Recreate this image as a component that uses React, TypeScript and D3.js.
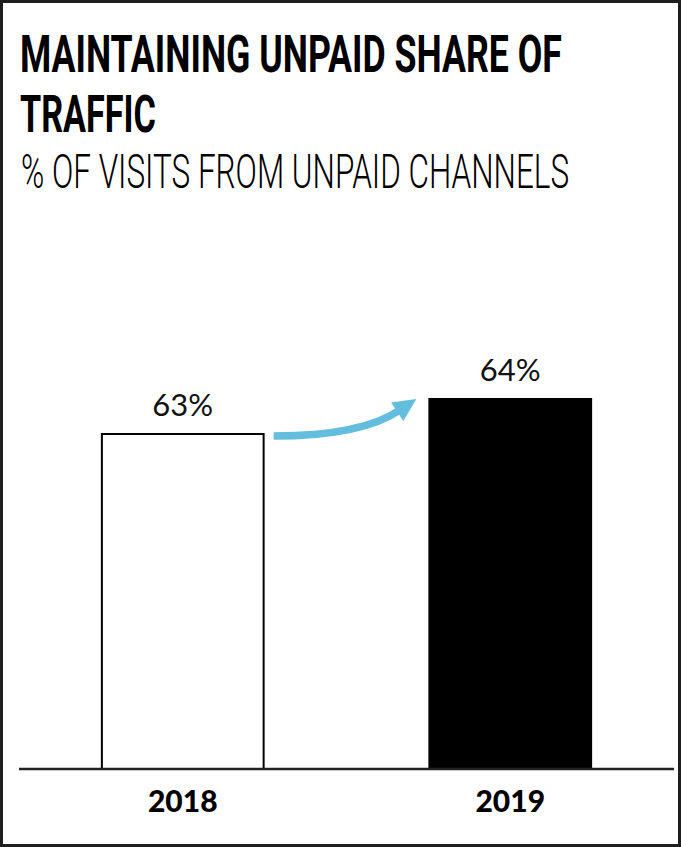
import React, { useLayoutEffect, useRef, useState } from "react";
import * as d3 from "d3";

const W = 681;
const H = 847;

const years = ["2018", "2019"];
const values = [63, 64];
const valueLabels = ["63%", "64%"];
const fills = ["#ffffff", "#000000"];

const titleLines = ["MAINTAINING UNPAID SHARE OF", "TRAFFIC"];
const subtitle = "% OF VISITS FROM UNPAID CHANNELS";

function FitText(props: {
  x: number;
  y: number;
  width: number;
  size: number;
  weight: number;
  children: string;
}) {
  const ref = useRef<SVGTextElement>(null);
  const [sx, setSx] = useState(0.62);
  useLayoutEffect(() => {
    if (ref.current) {
      const w = ref.current.getComputedTextLength();
      if (w > 0) setSx(props.width / w);
    }
  }, [props.width, props.children]);
  return (
    <text
      ref={ref}
      transform={`translate(${props.x},${props.y}) scale(${sx},1)`}
      fontSize={props.size}
      fontWeight={props.weight}
    >
      {props.children}
    </text>
  );
}

export default function App() {
  const x = d3
    .scaleBand<string>()
    .domain(years)
    .range([19, 674])
    .paddingInner(0.5)
    .paddingOuter(0.25);
  const y = d3.scaleLinear().domain([53.4, 74]).range([769, 48]);

  const x0 = (x(years[0]) ?? 0) + x.bandwidth();
  const x1 = x(years[1]) ?? 0;
  const y0 = y(values[0]);
  const y1 = y(values[1]);

  // arrow geometry relative to bars
  const start: [number, number] = [x0 + 9, y0 + 3];
  const tip: [number, number] = [x1 - 12, y1 + 1];
  const dirX = 19.5 / 23.4;
  const dirY = -13 / 23.4;
  const headLen = 23;
  const baseMid: [number, number] = [tip[0] - dirX * headLen, tip[1] - dirY * headLen];
  const px = -dirY;
  const py = dirX;
  const half = 11;
  const c1: [number, number] = [baseMid[0] + px * half, baseMid[1] + py * half];
  const c2: [number, number] = [baseMid[0] - px * half, baseMid[1] - py * half];
  const shaftEnd: [number, number] = [baseMid[0] + dirX * 3, baseMid[1] + dirY * 3];
  const ctrl: [number, number] = [shaftEnd[0] - 38, start[1]];
  const p = d3.path();
  p.moveTo(start[0], start[1]);
  p.quadraticCurveTo(ctrl[0], ctrl[1], shaftEnd[0], shaftEnd[1]);
  const head = d3.line()([tip, c1, c2]) + "Z";

  return (
    <svg
      width={W}
      height={H}
      style={{ position: "absolute", left: 0, top: 0, background: "#fff" }}
    >
      <rect x={1.5} y={1.5} width={W - 3} height={H - 3} fill="#fff" stroke="#1e1e1e" strokeWidth={3} />

      <g fontFamily="Roboto, 'Noto Sans', sans-serif" fill="#000">
        <FitText x={20} y={72} width={542} size={51} weight={700}>
          {titleLines[0]}
        </FitText>
        <FitText x={20} y={132} width={136} size={51} weight={700}>
          {titleLines[1]}
        </FitText>
        <FitText x={21} y={188} width={548} size={49} weight={300}>
          {subtitle}
        </FitText>
      </g>

      {years.map((yr, i) => (
        <rect
          key={yr}
          x={(x(yr) ?? 0) + (i === 0 ? 1 : 0)}
          y={y(values[i]) + (i === 0 ? 1 : 0)}
          width={x.bandwidth() - (i === 0 ? 2 : 0)}
          height={769 - y(values[i]) - (i === 0 ? 1 : 0)}
          fill={fills[i]}
          stroke={i === 0 ? "#000" : "none"}
          strokeWidth={2}
        />
      ))}

      <line x1={19} x2={674} y1={769} y2={769} stroke="#222" strokeWidth={2.5} />

      {years.map((yr, i) => (
        <text
          key={"v" + yr}
          x={(x(yr) ?? 0) + x.bandwidth() / 2}
          y={y(values[i]) - 17}
          textAnchor="middle"
          fontFamily="Lato, Roboto, sans-serif"
          fontSize={31}
          fill="#111"
        >
          {valueLabels[i]}
        </text>
      ))}

      {years.map((yr) => (
        <text
          key={"y" + yr}
          x={(x(yr) ?? 0) + x.bandwidth() / 2}
          y={812}
          textAnchor="middle"
          fontFamily="Lato, Roboto, sans-serif"
          fontWeight={900}
          fontSize={30}
          fill="#000"
        >
          {yr}
        </text>
      ))}

      <path d={p.toString()} fill="none" stroke="#63bddd" strokeWidth={7.5} />
      <path d={head} fill="#63bddd" />
    </svg>
  );
}
